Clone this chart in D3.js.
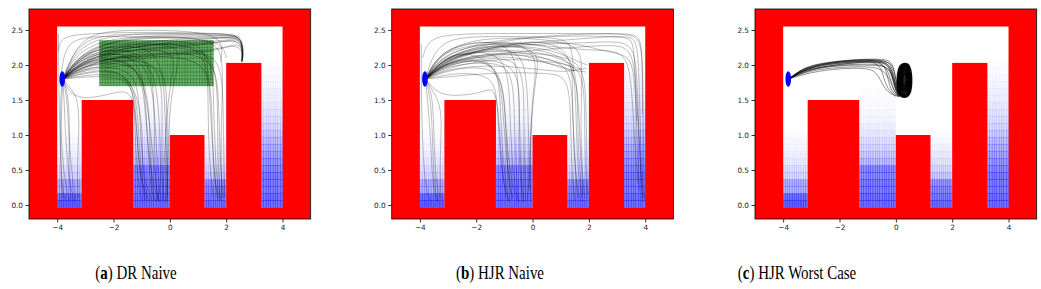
<!DOCTYPE html>
<html><head><meta charset="utf-8">
<script src="https://cdn.jsdelivr.net/npm/d3@7"></script>
<style>body{margin:0;background:#fff}svg{display:block}</style>
</head><body>
<svg id="chart" width="1041" height="289"></svg>
<script>
// ---------- data ----------
const xTicks = [-4, -2, 0, 2, 4];
const yTicks = [0, 0.5, 1, 1.5, 2, 2.5];
const captionLetters = ["a", "b", "c"];
const captionTexts = ["DR Naive", "HJR Naive", "HJR Worst Case"];
const captionCenters = [136, 500, 797];
const arena = {x0: -4, x1: 4, y0: -0.04, y1: 2.55};
const obstacles = [
  {x0: -3.13, x1: -1.3, top: 1.5},
  {x0: 0.0, x1: 1.23, top: 1.0},
  {x0: 2.0, x1: 3.25, top: 2.03}
];
const gaps = [[-4, -3.13], [-1.3, 0], [1.23, 2.0], [3.25, 4]];
// alpha of blue value-function cells, per 0.1-high row from the floor up
const heatGap1 = [0.6, 0.55, 0.3, 0.3, 0.15, 0.12, 0.08, 0.06, 0.04, 0.03, 0.015];
const heatGap2 = [0.55, 0.55, 0.5, 0.5, 0.45, 0.45, 0.25, 0.2, 0.15, 0.12, 0.08, 0.06, 0.04, 0.03, 0.02, 0.015, 0.01];
const heatGap3 = [0.55, 0.5, 0.45, 0.4, 0.2, 0.15, 0.1, 0.07, 0.05, 0.03, 0.015];
const heatGap4 = [0.55, 0.55, 0.5, 0.5, 0.5, 0.45, 0.4, 0.35, 0.3, 0.25, 0.2, 0.15, 0.12, 0.1, 0.08, 0.06, 0.05, 0.04, 0.03, 0.02, 0.01];
const heatRows = [heatGap1, heatGap2, heatGap3, heatGap4];
const goalBox = {x0: -2.5, x1: 1.55, y0: 1.7, y1: 2.35};
const startPos = [-3.82, 1.8];

const trajA = [
  [[-3.8,1.8],[-3.3,2.1],[-2.5,2.3],[-1,2.42],[0.5,2.43],[1.8,2.42],[2.4,2.42],[2.6,2.3],[2.55,2.05]],
  [[-3.8,1.8],[-3.2,2.05],[-2,2.25],[-0.5,2.35],[1,2.38],[2.2,2.4],[2.55,2.35],[2.58,2.1]],
  [[-3.8,1.8],[-3.0,2.0],[-1.5,2.15],[0,2.25],[1.5,2.3],[2.3,2.38],[2.6,2.25],[2.55,2.05]],
  [[-3.8,1.8],[-3.4,2.2],[-2.8,2.4],[-1.5,2.45],[0.8,2.45],[2.2,2.45],[2.55,2.38],[2.6,2.1]],
  [[-3.8,1.8],[-3.0,1.95],[-1.0,2.1],[0.5,2.15],[1.6,2.2],[2.3,2.3],[2.6,2.2],[2.55,2.04]],
  [[-3.8,1.8],[-3.1,2.15],[-2.0,2.35],[0,2.4],[1.8,2.38],[2.45,2.4],[2.62,2.25],[2.56,2.05]],
  [[-3.8,1.8],[-3.2,2.1],[-1.8,2.28],[0.2,2.3],[1.9,2.35],[2.5,2.38],[2.63,2.2],[2.57,2.05]],
  [[-3.8,1.8],[-3.3,2.0],[-2.2,2.2],[-0.2,2.32],[1.2,2.36],[2.4,2.42],[2.6,2.32],[2.56,2.06]],
  [[-3.8,1.8],[-3.25,2.12],[-2.3,2.32],[-0.8,2.4],[0.9,2.4],[2.1,2.42],[2.5,2.4],[2.62,2.28],[2.57,2.06]],
  [[-3.8,1.8],[-3.15,2.02],[-1.7,2.2],[0.3,2.28],[1.7,2.32],[2.35,2.36],[2.6,2.26],[2.55,2.05]],
  [[-3.8,1.8],[-3.3,2.25],[-2.2,2.42],[-0.5,2.45],[1.2,2.43],[2.3,2.44],[2.58,2.34],[2.57,2.08]],
  [[-3.8,1.8],[-3.0,1.98],[-1.2,2.12],[0.6,2.18],[1.9,2.24],[2.45,2.32],[2.6,2.18],[2.55,2.04]],
  [[-3.8,1.8],[-3.0,2.05],[-2.0,2.1],[-1.2,2.0],[-0.9,1.6],[-0.8,0.9],[-0.6,0.3],[-0.4,0.05]],
  [[-3.8,1.8],[-3.2,2.0],[-2.2,2.15],[-1.0,2.1],[-0.6,1.7],[-0.5,1.0],[-0.4,0.3],[-0.3,0.05]],
  [[-3.8,1.8],[-2.8,2.0],[-1.5,1.95],[-1.1,1.7],[-1.05,1.0],[-0.9,0.3],[-0.6,0.05]],
  [[-3.8,1.8],[-3.0,2.2],[-1.5,2.3],[-0.5,2.2],[-0.2,1.8],[-0.15,1.0],[-0.1,0.3],[-0.15,0.05]],
  [[-3.8,1.8],[-3.3,2.1],[-2.0,2.25],[-0.8,2.15],[-0.4,1.6],[-0.35,0.8],[-0.3,0.2],[-0.5,0.05]],
  [[-3.8,1.8],[-2.5,1.85],[-1.4,1.8],[-1.2,1.4],[-1.15,0.7],[-0.9,0.15],[-0.7,0.05]],
  [[-3.8,1.8],[-3.1,2.0],[-1.8,2.05],[-0.9,1.9],[-0.7,1.2],[-0.7,0.5],[-0.55,0.08]],
  [[-3.8,1.8],[-2.9,2.1],[-1.2,2.25],[0.2,2.2],[0.1,1.9],[-0.1,1.4],[-0.2,0.6],[-0.25,0.06]],
  [[-3.8,1.8],[-3.0,1.9],[-2.0,1.95],[-1.3,1.75],[-0.95,1.2],[-1.0,0.5],[-0.8,0.1]],
  [[-3.8,1.8],[-3.4,2.0],[-2.5,2.2],[-0.3,2.3],[0.5,2.25],[0.0,1.6],[-0.05,0.8],[-0.1,0.1]],
  [[-3.8,1.8],[-3.1,2.05],[-2.1,2.12],[-1.1,1.95],[-0.8,1.5],[-0.6,0.7],[-0.45,0.15],[-0.35,0.04]],
  [[-3.8,1.8],[-2.7,1.92],[-1.6,1.9],[-1.15,1.55],[-1.1,0.8],[-0.95,0.25],[-0.85,0.05]],
  [[-3.8,1.8],[-3.05,2.08],[-1.9,2.18],[-0.7,2.1],[-0.55,1.5],[-0.55,0.8],[-0.5,0.25],[-0.4,0.05]],
  [[-3.8,1.8],[-3.2,2.1],[-2.0,2.2],[-1.0,2.05],[-0.85,1.4],[-0.75,0.6],[-0.65,0.15],[-0.5,0.05]],
  [[-3.8,1.8],[-3.0,2.0],[-1.7,2.08],[-0.4,2.05],[-0.25,1.5],[-0.3,0.7],[-0.25,0.15],[-0.2,0.04]],
  [[-3.8,1.8],[-2.9,1.95],[-1.3,2.0],[-0.2,2.0],[-0.1,1.5],[-0.1,0.8],[-0.08,0.2],[-0.1,0.04]],
  [[-3.8,1.8],[-2.6,1.88],[-1.35,1.85],[-1.25,1.3],[-1.2,0.6],[-1.05,0.15],[-0.95,0.04]],
  [[-3.8,1.8],[-3.0,2.1],[-1.0,2.3],[0.8,2.3],[1.5,2.1],[1.55,1.5],[1.6,0.8],[1.7,0.2],[1.85,0.05]],
  [[-3.8,1.8],[-3.2,2.15],[-1.5,2.35],[0.5,2.35],[1.3,2.25],[1.4,1.7],[1.5,0.9],[1.6,0.3],[1.75,0.08]],
  [[-3.8,1.8],[-2.8,2.05],[-0.5,2.2],[1.2,2.15],[1.7,1.9],[1.75,1.2],[1.8,0.5],[1.9,0.1]],
  [[-3.8,1.8],[-3.1,2.05],[-1,2.15],[1.0,2.1],[1.45,1.8],[1.5,1.2],[1.55,0.5],[1.7,0.06]],
  [[-3.8,1.8],[-3.3,2.2],[-2,2.4],[0,2.42],[1.6,2.35],[1.9,2.1],[1.85,1.4],[1.8,0.7],[1.85,0.1]],
  [[-3.8,1.8],[-3.3,2.15],[-1.8,2.3],[0.6,2.32],[1.35,2.1],[1.35,1.4],[1.4,0.6],[1.55,0.1]],
  [[-3.8,1.8],[-3.1,2.1],[-0.9,2.25],[1.1,2.25],[1.65,2.0],[1.7,1.3],[1.7,0.6],[1.8,0.08]],
  [[-3.8,1.8],[-3.0,2.05],[-0.8,2.15],[1.3,2.2],[1.85,2.0],[1.9,1.3],[1.92,0.5],[1.95,0.1]],
  [[-3.8,1.8],[-3.75,1.5],[-3.7,0.9],[-3.55,0.3],[-3.4,0.05]],
  [[-3.8,1.8],[-3.6,1.6],[-3.55,1.0],[-3.6,0.4],[-3.5,0.08]],
  [[-3.8,1.8],[-3.65,1.55],[-3.6,1.1],[-3.5,0.5],[-3.35,0.06]],
  [[-3.8,1.8],[-3.9,1.5],[-3.85,0.8],[-3.7,0.25],[-3.55,0.05]],
  [[-3.95,2.45],[-3.95,1.8],[-3.9,1.0],[-3.85,0.3],[-3.7,0.05]],
  [[-3.8,1.8],[-3.5,1.65],[-3.3,1.55],[-3.2,1.2],[-3.3,0.5],[-3.25,0.1]],
  [[-3.8,1.8],[-3.85,1.3],[-3.9,0.6],[-3.8,0.1]],
  [[-3.8,1.8],[-3.5,1.55],[-2.8,1.52],[-2.0,1.6],[-1.4,1.65],[-1.2,1.3],[-1.1,0.5],[-0.9,0.08]],
  [[-3.95,2.2],[-3.9,2.4],[-3,2.45],[-1,2.47],[1,2.46],[2.2,2.44],[2.5,2.4]],
  [[-3.85,1.9],[-3.7,2.3],[-3.0,2.42],[-1.0,2.4],[1.0,2.38],[1.9,2.3],[2.0,2.1]],
  [[-3.8,1.8],[-3.2,2.4],[-2.0,2.5],[0,2.5],[1.5,2.45],[1.9,2.3],[1.8,2.05]]
];

const trajB = [
  [[-3.8,1.8],[-3,2.1],[-1,2.3],[1,2.35],[2.5,2.4],[3.5,2.42],[3.75,2.3],[3.8,1.5],[3.85,0.6],[3.95,0.1]],
  [[-3.8,1.8],[-3.2,2.15],[-1.5,2.35],[0.5,2.42],[2.5,2.45],[3.6,2.44],[3.9,2.3],[3.92,1.5],[3.95,0.5],[3.98,0.05]],
  [[-3.8,1.8],[-3,2.05],[-0.5,2.2],[1.5,2.25],[3.0,2.3],[3.6,2.2],[3.7,1.5],[3.8,0.8],[3.9,0.1]],
  [[-3.8,1.8],[-3.3,2.2],[-2,2.35],[0,2.3],[2,2.2],[3.2,2.22],[3.5,1.9],[3.6,1.0],[3.75,0.3]],
  [[-3.8,1.8],[-3.1,2.08],[-1.7,2.25],[0.2,2.3],[2.2,2.32],[3.4,2.35],[3.7,2.1],[3.75,1.2],[3.85,0.4],[3.9,0.05]],
  [[-3.8,1.8],[-3.15,2.1],[-2.1,2.25],[-0.3,2.4],[1.8,2.42],[3.3,2.4],[3.6,2.35],[3.65,1.8],[3.7,0.9],[3.8,0.2]],
  [[-3.8,1.8],[-3,2.15],[-1.5,2.3],[0,2.25],[1.2,2.1],[1.5,1.9],[1.55,1.2],[1.6,0.5],[1.75,0.1]],
  [[-3.8,1.8],[-3.2,2.05],[-2,2.2],[-0.5,2.2],[1,2.05],[1.4,1.85],[1.45,1.0],[1.55,0.3],[1.7,0.05]],
  [[-3.8,1.8],[-2.8,2.0],[-1,2.1],[0.5,2.05],[1.6,2.0],[1.85,1.7],[1.85,0.9],[1.9,0.3],[1.95,0.08]],
  [[-3.8,1.8],[-3.3,2.2],[-1.8,2.4],[0.2,2.38],[1.5,2.3],[1.8,2.1],[1.7,1.3],[1.75,0.5],[1.85,0.1]],
  [[-3.8,1.8],[-3.25,2.15],[-1.7,2.32],[0.4,2.3],[1.3,2.15],[1.6,1.8],[1.6,1.0],[1.7,0.3],[1.8,0.05]],
  [[-3.8,1.8],[-3.1,2.05],[-1.2,2.2],[0.7,2.15],[1.75,2.05],[1.9,1.6],[1.92,0.8],[1.95,0.15]],
  [[-3.8,1.8],[-3,2.05],[-2,2.1],[-1.2,1.95],[-1.0,1.5],[-0.9,0.8],[-0.7,0.2],[-0.5,0.05]],
  [[-3.8,1.8],[-3.1,2.1],[-1.5,2.25],[-0.5,2.2],[-0.2,1.9],[-0.15,1.1],[-0.1,0.4],[-0.2,0.05]],
  [[-3.8,1.8],[-2.6,1.9],[-1.5,1.85],[-1.25,1.6],[-1.2,0.9],[-1.0,0.2],[-0.8,0.05]],
  [[-3.8,1.8],[-3.2,2.2],[-2,2.35],[-0.8,2.3],[-0.5,1.9],[-0.45,1.0],[-0.4,0.3],[-0.3,0.05]],
  [[-3.8,1.8],[-3,2.0],[-1.5,2.05],[-0.7,1.95],[-0.65,1.3],[-0.6,0.6],[-0.5,0.1]],
  [[-3.8,1.8],[-2.9,2.1],[-0.8,2.3],[0.3,2.2],[0.1,1.8],[-0.05,1.2],[-0.1,0.5],[-0.05,0.05]],
  [[-3.8,1.8],[-3.3,2.1],[-2.2,2.2],[-1.4,2.0],[-1.1,1.7],[-1.0,1.0],[-0.85,0.4],[-0.7,0.1]],
  [[-3.8,1.8],[-3.2,2.1],[-1.9,2.22],[-0.9,2.1],[-0.8,1.4],[-0.75,0.7],[-0.6,0.15],[-0.45,0.04]],
  [[-3.8,1.8],[-3.0,2.02],[-1.4,2.12],[-0.35,2.05],[-0.3,1.4],[-0.3,0.6],[-0.25,0.1]],
  [[-3.8,1.8],[-2.8,1.95],[-1.6,1.98],[-1.05,1.8],[-0.95,1.2],[-0.9,0.5],[-0.75,0.08]],
  [[-3.8,1.8],[-3.2,2.0],[-2.2,2.08],[-1.3,2.0],[-1.15,1.6],[-1.1,0.9],[-0.95,0.3],[-0.85,0.05]],
  [[-3.8,1.8],[-3.3,2.18],[-2.0,2.3],[-0.4,2.32],[0.2,2.1],[0.0,1.6],[-0.08,0.9],[-0.12,0.2]],
  [[-3.8,1.8],[-3.05,2.0],[-1.8,2.1],[-0.55,2.0],[-0.45,1.5],[-0.5,0.8],[-0.4,0.2],[-0.35,0.04]],
  [[-3.8,1.8],[-3.7,1.4],[-3.6,0.8],[-3.55,0.3],[-3.4,0.05]],
  [[-3.8,1.8],[-3.55,1.6],[-3.5,1.0],[-3.45,0.4],[-3.3,0.1]],
  [[-3.8,1.8],[-3.6,1.5],[-3.55,0.9],[-3.5,0.3],[-3.35,0.05]],
  [[-3.95,2.3],[-3.95,1.6],[-3.9,0.8],[-3.8,0.2],[-3.6,0.05]],
  [[-3.8,1.8],[-3.4,1.55],[-3.2,1.3],[-3.3,0.6],[-3.25,0.08]],
  [[-3.8,1.8],[-3.4,1.6],[-2.8,1.55],[-1.8,1.6],[-1.35,1.7],[-1.2,1.3],[-1.1,0.6],[-0.95,0.1]],
  [[-3.9,2.1],[-3.7,2.4],[-2.5,2.45],[0,2.45],[2,2.45],[3.5,2.45],[3.85,2.4],[3.9,2.0],[3.9,1.3]],
  [[-3.8,1.8],[-3.4,2.35],[-2,2.42],[1,2.4],[1.4,2.3],[1.45,1.9]],
  [[-3.8,1.8],[-3,2.1],[-1,2.3],[1.2,2.35],[2.5,2.2],[3.3,2.15],[3.6,2.0],[3.7,1.2]],
  [[-3.8,1.8],[-3.0,1.95],[-1.5,2.0],[0,1.95],[1.0,1.9],[1.4,1.92],[1.9,1.95]],
  [[-3.8,1.8],[-3.2,2.1],[-1.8,2.25],[-0.2,2.35],[1.0,2.3],[1.45,2.0],[1.4,1.4],[1.5,0.6],[1.6,0.1]],
  [[-3.8,1.8],[-2.5,1.85],[-1.0,1.9],[0.5,1.88],[1.3,1.85],[1.35,1.2],[1.4,0.4],[1.5,0.06]],
  [[-3.8,1.8],[-3.1,2.12],[-1.6,2.28],[0.1,2.27],[1.1,2.15],[1.6,2.05],[1.95,2.0]],
  [[-3.8,1.8],[-3.2,2.02],[-2.0,2.12],[-0.6,2.12],[0.8,2.0],[1.5,1.95],[1.65,1.4],[1.7,0.7],[1.8,0.15]],
  [[-3.8,1.8],[-3.3,2.05],[-2.3,2.18],[-1.0,2.22],[0.4,2.18],[1.2,2.05],[1.5,1.98]],
  [[-3.8,1.8],[-3.0,2.08],[-1.2,2.18],[0.0,2.12],[0.8,1.98],[1.45,1.92],[1.9,1.9]],
  [[-3.8,1.8],[-3.0,2.05],[-1.6,2.15],[-0.2,2.15],[0.9,2.05],[1.45,1.96],[1.75,1.95]]
];

const trajC = [
  [[-3.8,1.8],[-3.3,1.93],[-2.2,2.0],[-1.2,2.04],[-0.5,2.05],[-0.2,1.98],[-0.05,1.7],[0.1,1.56]],
  [[-3.8,1.8],[-3.2,1.97],[-2,2.05],[-1,2.08],[-0.3,2.07],[-0.1,1.95],[0,1.7],[0.15,1.55]],
  [[-3.8,1.8],[-3.0,1.95],[-1.8,2.0],[-0.8,2.0],[-0.3,1.98],[-0.1,1.85],[0.0,1.65],[0.12,1.55]],
  [[-3.8,1.8],[-3.1,1.92],[-2,1.97],[-1,1.98],[-0.5,1.95],[-0.2,1.8],[-0.05,1.6],[0.15,1.54]],
  [[-3.8,1.8],[-3.2,1.98],[-2.2,2.05],[-1.1,2.08],[-0.45,2.05],[-0.3,1.85],[-0.2,1.65],[0.05,1.55]],
  [[-3.8,1.8],[-3.3,1.96],[-2.5,2.03],[-1.3,2.06],[-0.6,2.04],[-0.45,1.85],[-0.3,1.65],[0.0,1.55]],
  [[-3.8,1.8],[-3,1.9],[-2,1.95],[-1,1.96],[-0.7,1.9],[-0.5,1.75],[-0.3,1.6],[0.1,1.55]],
  [[-3.8,1.8],[-3.2,1.99],[-2.1,2.06],[-0.9,2.09],[-0.25,2.08],[-0.1,2.0],[0.0,1.8],[0.1,1.6]],
  [[-3.8,1.8],[-3.1,1.94],[-1.9,2.02],[-0.9,2.05],[-0.35,2.04],[-0.15,1.9],[-0.05,1.68],[0.08,1.56]],
  [[-3.8,1.8],[-3.25,1.95],[-2.0,2.03],[-1.0,2.06],[-0.4,2.06],[-0.15,1.96],[-0.02,1.72],[0.12,1.56]],
  [[-3.8,1.8],[-3.15,1.96],[-2.1,2.04],[-1.1,2.07],[-0.35,2.06],[-0.12,1.92],[0.0,1.68],[0.14,1.55]],
  [[-3.8,1.8],[-3.2,1.94],[-2.0,2.0],[-1.0,2.02],[-0.4,2.0],[-0.15,1.88],[-0.03,1.66],[0.1,1.55]],
  [[-3.8,1.8],[-3.1,1.97],[-2.0,2.06],[-1.0,2.08],[-0.3,2.06],[-0.08,1.98],[0.02,1.75],[0.12,1.57]],
  [[-3.8,1.8],[-3.3,1.95],[-2.3,2.02],[-1.2,2.05],[-0.5,2.04],[-0.25,1.9],[-0.1,1.65],[0.08,1.55]]
];
// closed loops forming the dense orbit on the right end of the bundle
const loopsC = [
  [[0.05,1.78],[0.1,1.6],[0.3,1.54],[0.5,1.6],[0.56,1.8],[0.48,1.98],[0.3,2.02],[0.12,1.96]],
  [[0.08,1.78],[0.13,1.62],[0.3,1.56],[0.47,1.62],[0.53,1.8],[0.45,1.96],[0.3,2.0],[0.15,1.94]],
  [[0.12,1.78],[0.16,1.64],[0.3,1.58],[0.44,1.64],[0.5,1.8],[0.43,1.94],[0.3,1.98],[0.18,1.92]],
  [[0.16,1.78],[0.2,1.66],[0.3,1.62],[0.4,1.66],[0.46,1.8],[0.4,1.92],[0.3,1.95],[0.2,1.9]],
  [[0.2,1.78],[0.23,1.68],[0.3,1.65],[0.38,1.7],[0.42,1.8],[0.37,1.9],[0.3,1.92],[0.23,1.88]],
  [[0.24,1.78],[0.26,1.71],[0.3,1.69],[0.35,1.72],[0.38,1.8],[0.34,1.87],[0.3,1.88],[0.26,1.85]]
];
const panelTraj = [trajA, trajB, trajC];

// ---------- layout ----------
const panelLefts = [29, 391.7, 755];
const pw = 281.7, plotTop = 9, plotBottom = 219;
const svg = d3.select("#chart");

panelLefts.forEach((left, pi) => {
  const x = d3.scaleLinear().domain([-5, 5]).range([left, left + pw]);
  const y = d3.scaleLinear().domain([-0.2, 2.8]).range([plotBottom, plotTop]);
  const g = svg.append("g");
  const clipId = "clip" + pi;
  svg.append("clipPath").attr("id", clipId).append("rect")
    .attr("x", left).attr("y", plotTop).attr("width", pw).attr("height", plotBottom - plotTop);
  const plot = g.append("g").attr("clip-path", `url(#${clipId})`);

  plot.append("rect").attr("x", left).attr("y", plotTop).attr("width", pw).attr("height", plotBottom - plotTop).attr("fill", "#ff0000");
  plot.append("rect").attr("x", x(arena.x0)).attr("y", y(arena.y1))
    .attr("width", x(arena.x1) - x(arena.x0)).attr("height", y(arena.y0) - y(arena.y1)).attr("fill", "#fff");

  // value-function heat cells
  gaps.forEach((gp, gi) => {
    const rows = heatRows[gi];
    const ncol = Math.round((gp[1] - gp[0]) / 0.08);
    const dx = (gp[1] - gp[0]) / ncol;
    rows.forEach((a, ri) => {
      const y0 = arena.y0 + ri * 0.1, y1 = y0 + 0.1;
      for (let c = 0; c < ncol; c++) {
        const x0 = gp[0] + c * dx;
        plot.append("rect").attr("x", x(x0)).attr("y", y(y1))
          .attr("width", x(x0 + dx) - x(x0)).attr("height", y(y0) - y(y1))
          .attr("fill", "#0000ff").attr("fill-opacity", a)
          .attr("stroke", "#0000ff").attr("stroke-opacity", Math.min(1, a * 1.1)).attr("stroke-width", 0.35);
      }
    });
  });

  obstacles.forEach(o => {
    plot.append("rect").attr("x", x(o.x0)).attr("y", y(o.top))
      .attr("width", x(o.x1) - x(o.x0)).attr("height", y(arena.y0) - y(o.top) + 1).attr("fill", "#ff0000");
  });

  if (pi === 0) {
    const gb = plot.append("g");
    const nx = 40, ny = 13;
    const gdx = (goalBox.x1 - goalBox.x0) / nx, gdy = (goalBox.y1 - goalBox.y0) / ny;
    for (let i = 0; i < nx; i++) for (let j = 0; j < ny; j++) {
      const x0 = goalBox.x0 + i * gdx, y0 = goalBox.y0 + j * gdy;
      gb.append("rect").attr("x", x(x0)).attr("y", y(y0 + gdy))
        .attr("width", x(x0 + gdx) - x(x0)).attr("height", y(y0) - y(y0 + gdy))
        .attr("fill", "#008000").attr("fill-opacity", 0.62)
        .attr("stroke", "#003000").attr("stroke-opacity", 0.4).attr("stroke-width", 0.4);
    }
  }

  const line = d3.line().x(d => x(d[0])).y(d => y(d[1])).curve(d3.curveBasis);
  const trajs = panelTraj[pi];
  const op = pi === 2 ? 0.5 : 0.3;
  plot.append("g").selectAll("path").data(trajs).join("path")
    .attr("d", line).attr("fill", "none").attr("stroke", "#000")
    .attr("stroke-opacity", op).attr("stroke-width", 0.85);
  if (pi === 2) {
    const loop = d3.line().x(d => x(d[0])).y(d => y(d[1])).curve(d3.curveCardinalClosed);
    plot.append("path").datum(loopsC[0]).attr("d", loop).attr("fill", "#000").attr("fill-opacity", 0.85);
    plot.append("g").selectAll("path").data(loopsC).join("path")
      .attr("d", loop).attr("fill", "none").attr("stroke", "#000")
      .attr("stroke-opacity", 0.9).attr("stroke-width", 1.6);
  }

  plot.append("ellipse").attr("cx", x(startPos[0])).attr("cy", y(startPos[1]))
    .attr("rx", x(startPos[0] + 0.1) - x(startPos[0])).attr("ry", y(startPos[1] - 0.11) - y(startPos[1]))
    .attr("fill", "#0000ff");

  // spines
  g.append("rect").attr("x", left).attr("y", plotTop).attr("width", pw).attr("height", plotBottom - plotTop)
    .attr("fill", "none").attr("stroke", "#000").attr("stroke-width", 0.8);

  const xa = g.append("g").attr("transform", `translate(0,${plotBottom})`)
    .call(d3.axisBottom(x).tickValues(xTicks).tickSize(3.5).tickPadding(2.5).tickFormat(d3.format("d")));
  const ya = g.append("g").attr("transform", `translate(${left},0)`)
    .call(d3.axisLeft(y).tickValues(yTicks).tickSize(3.5).tickPadding(2.5).tickFormat(d3.format(".1f")));
  [xa, ya].forEach(a => {
    a.select(".domain").remove();
    a.selectAll("line").attr("stroke", "#000").attr("stroke-width", 0.8);
    a.selectAll("text").attr("font-family", "DejaVu Sans").attr("font-size", 7.3).attr("fill", "#222");
  });

  const cap = svg.append("text")
    .attr("transform", `translate(${captionCenters[pi]},279) scale(0.83,1)`)
    .attr("text-anchor", "middle").attr("font-family", "Liberation Serif").attr("font-size", 18).attr("fill", "#000");
  cap.append("tspan").text("(");
  cap.append("tspan").attr("font-weight", "bold").text(captionLetters[pi]);
  cap.append("tspan").text(") " + captionTexts[pi]);
});
</script>
</body></html>
